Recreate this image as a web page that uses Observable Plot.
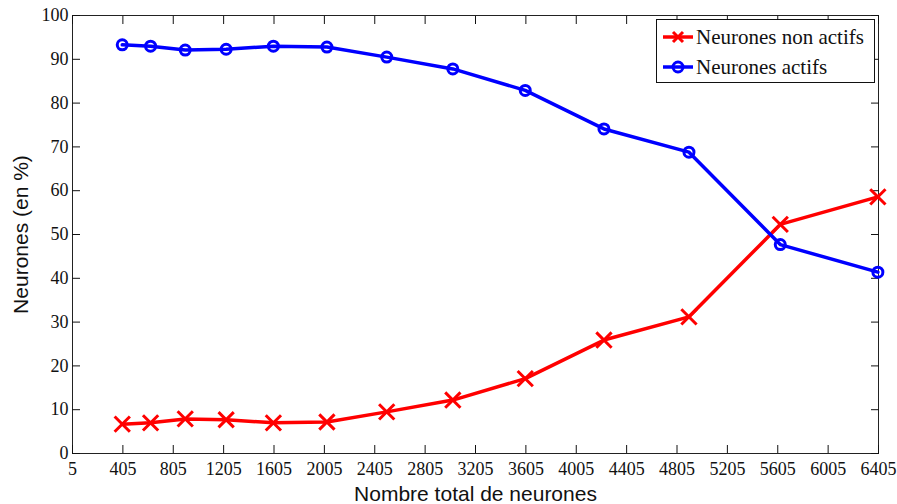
<!DOCTYPE html>
<html>
<head>
<meta charset="utf-8">
<script src="https://cdn.jsdelivr.net/npm/d3@7"></script>
<script src="https://cdn.jsdelivr.net/npm/@observablehq/plot@0.6"></script>
<style>
  body { margin: 0; background: #fff; }
  #wrap { position: relative; width: 897px; height: 504px; }
  #wrap svg text { font-family: "Liberation Serif", serif; }
  #legend {
    position: absolute; left: 656px; top: 19px; width: 219px; height: 64px;
    box-sizing: border-box; border: 1px solid #111; background: #fff;
    font-family: "Liberation Serif", serif; font-size: 21px; color: #111;
  }
  #legend .row { position: absolute; left: 5px; height: 30px; display: flex; align-items: center; white-space: nowrap; }
  #legend svg { display: block; margin-right: 2px; }
  #wrap g[aria-label="x-axis label"] text, #wrap g[aria-label="y-axis label"] text {
    font-family: "Liberation Sans", Arial, sans-serif; font-size: 21px;
  }
</style>
</head>
<body>
<div id="wrap"></div>
<script>
// Data
const totalNeurons = [400, 625, 900, 1225, 1600, 2025, 2500, 3025, 3600, 4225, 4900, 5625, 6400];
const inactivePct  = [6.7, 7.0, 7.9, 7.7, 7.0, 7.2, 9.5, 12.2, 17.1, 25.9, 31.2, 52.3, 58.6];
const activePct    = [93.3, 93.0, 92.1, 92.3, 93.0, 92.8, 90.5, 87.8, 82.9, 74.1, 68.8, 47.7, 41.4];
const seriesNames  = ["Neurones non actifs", "Neurones actifs"];
const seriesColors = ["#ff0000", "#0000ff"];
const xTicks = [5, 405, 805, 1205, 1605, 2005, 2405, 2805, 3205, 3605, 4005, 4405, 4805, 5205, 5605, 6005, 6405];
const yTicks = [0, 10, 20, 30, 40, 50, 60, 70, 80, 90, 100];
const xLabel = "Nombre total de neurones";
const yLabel = "Neurones (en %)";

const inactive = totalNeurons.map((n, i) => ({n, v: inactivePct[i]}));
const active = totalNeurons.map((n, i) => ({n, v: activePct[i]}));

const chart = Plot.plot({
  width: 897,
  height: 504,
  marginLeft: 72,
  marginRight: 19,
  marginTop: 15,
  marginBottom: 51,
  x: {domain: [xTicks[0], xTicks[xTicks.length - 1]]},
  y: {domain: [yTicks[0], yTicks[yTicks.length - 1]]},
  style: {fontFamily: "'Liberation Serif', serif", fontSize: "18px", color: "#111", background: "#fff"},
  marks: [
    Plot.frame({stroke: "#222", strokeWidth: 1}),
    Plot.axisX(xTicks, {anchor: "bottom", tickSize: -8, tickPadding: 17, tickFormat: d => String(d),
      label: xLabel, labelAnchor: "center", labelArrow: "none", labelOffset: 47}),
    Plot.axisX(xTicks, {anchor: "top", tickSize: -8, tickFormat: () => "", label: null}),
    Plot.axisY(yTicks, {anchor: "left", tickSize: -8, tickPadding: 12, tickFormat: d => String(d),
      label: yLabel, labelAnchor: "center", labelArrow: "none", labelOffset: 59}),
    Plot.axisY(yTicks, {anchor: "right", tickSize: -8, tickFormat: () => "", label: null}),
    Plot.line(inactive, {x: "n", y: "v", stroke: seriesColors[0], strokeWidth: 3.5}),
    Plot.dot(inactive, {x: "n", y: "v", symbol: "times", r: 7, stroke: seriesColors[0], strokeWidth: 3}),
    Plot.line(active, {x: "n", y: "v", stroke: seriesColors[1], strokeWidth: 3.5}),
    Plot.dot(active, {x: "n", y: "v", symbol: "circle", r: 5, fill: "none", stroke: seriesColors[1], strokeWidth: 3})
  ]
});

const wrap = document.getElementById("wrap");
wrap.appendChild(chart);

// Legend
const legend = document.createElement("div");
legend.id = "legend";
const rowTops = [2, 32];
seriesNames.forEach((name, i) => {
  const row = document.createElement("div");
  row.className = "row";
  row.style.top = rowTops[i] + "px";
  const ns = "http://www.w3.org/2000/svg";
  const svg = document.createElementNS(ns, "svg");
  svg.setAttribute("width", 32); svg.setAttribute("height", 20);
  const line = document.createElementNS(ns, "line");
  line.setAttribute("x1", 1); line.setAttribute("x2", 31);
  line.setAttribute("y1", 10); line.setAttribute("y2", 10);
  line.setAttribute("stroke", seriesColors[i]); line.setAttribute("stroke-width", 3.5);
  svg.appendChild(line);
  if (i === 0) {
    const p = document.createElementNS(ns, "path");
    p.setAttribute("d", "M11,5L21,15M11,15L21,5");
    p.setAttribute("stroke", seriesColors[i]); p.setAttribute("stroke-width", 3);
    svg.appendChild(p);
  } else {
    const c = document.createElementNS(ns, "circle");
    c.setAttribute("cx", 16); c.setAttribute("cy", 10); c.setAttribute("r", 5);
    c.setAttribute("fill", "none");
    c.setAttribute("stroke", seriesColors[i]); c.setAttribute("stroke-width", 3);
    svg.appendChild(c);
  }
  row.appendChild(svg);
  const span = document.createElement("span");
  span.textContent = name;
  row.appendChild(span);
  legend.appendChild(row);
});
wrap.appendChild(legend);
</script>
</body>
</html>
